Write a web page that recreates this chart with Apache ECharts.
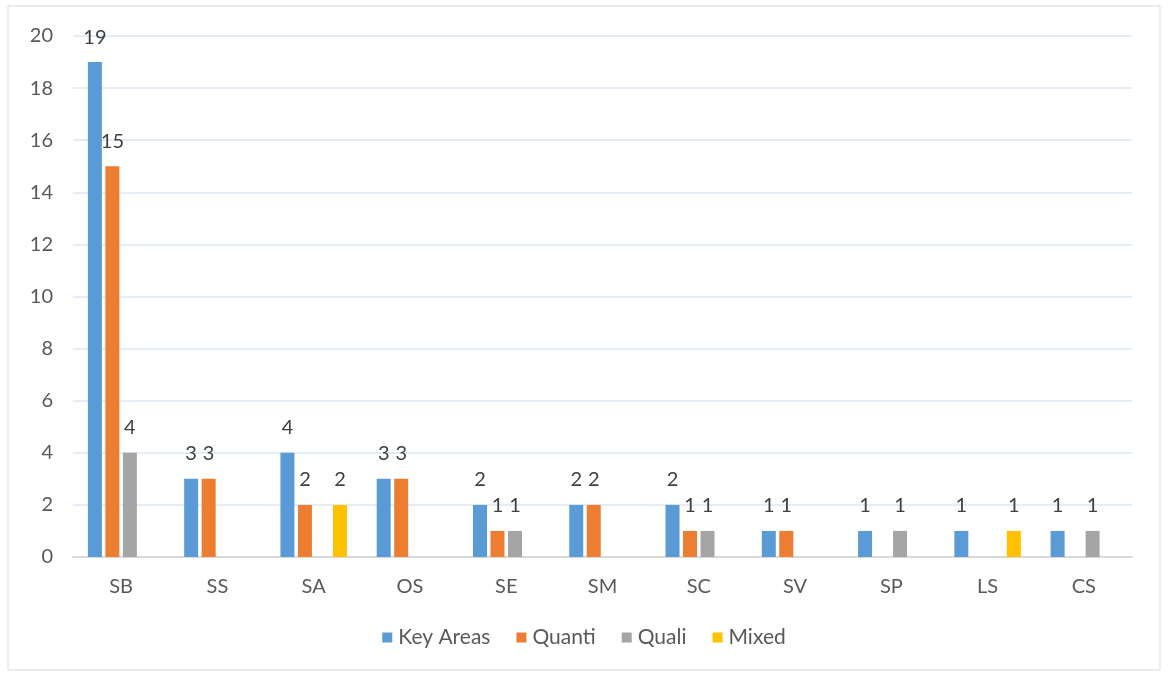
<!DOCTYPE html>
<html>
<head>
<meta charset="utf-8">
<script src="https://cdn.jsdelivr.net/npm/echarts@6/dist/echarts.min.js"></script>
<style>
  html, body { margin: 0; padding: 0; background: #fff; }
  #main { width: 1168px; height: 677px; }
</style>
</head>
<body>
<div id="main"></div>
<script>
var categories = ['SB', 'SS', 'SA', 'OS', 'SE', 'SM', 'SC', 'SV', 'SP', 'LS', 'CS'];
// null = no bar / no label
var keyAreas = [19, 3, 4, 3, 2, 2, 2, 1, 1, 1, 1];
var quanti   = [15, 3, 2, 3, 1, 2, 1, 1, null, null, null];
var quali    = [4, null, null, null, 1, null, 1, null, 1, null, 1];
var mixed    = [null, null, 2, null, null, null, null, null, null, 1, null];
var yTicks = { min: 0, max: 20, interval: 2 };

var chart = echarts.init(document.getElementById('main'));
var font = 'Lato, "Open Sans", sans-serif';

function mkSeries(name, data, color) {
    return {
        name: name,
        type: 'bar',
        data: data,
        barWidth: 14,
        barGap: '25%',
        itemStyle: { color: color },
        label: {
            show: true,
            position: 'top',
            distance: 15,
            color: '#404040',
            fontSize: 20,
            fontFamily: font
        }
    };
}

var option = {
    animation: false,
    textStyle: { fontFamily: font },
    graphic: [{
        type: 'rect',
        shape: { x: 8, y: 6, width: 1152, height: 664 },
        style: { fill: 'none', stroke: '#d9d9d9', lineWidth: 1 }
    }],
    grid: { left: 73, right: 36, top: 36, bottom: 120 },
    legend: {
        bottom: 24,
        left: 'center',
        itemWidth: 10,
        itemHeight: 10,
        itemGap: 26,
        icon: 'rect',
        textStyle: { color: '#595959', fontSize: 21, fontFamily: font, padding: [0, 0, 0, 1] },
        data: ['Key Areas', 'Quanti', 'Quali', 'Mixed']
    },
    xAxis: {
        type: 'category',
        data: categories,
        axisTick: { show: false },
        axisLine: { lineStyle: { color: '#d9d9d9', width: 2 } },
        axisLabel: { color: '#595959', fontSize: 20, margin: 20, fontFamily: font }
    },
    yAxis: {
        type: 'value',
        min: yTicks.min,
        max: yTicks.max,
        interval: yTicks.interval,
        axisLine: { show: false },
        axisTick: { show: false },
        axisLabel: { color: '#595959', fontSize: 20, margin: 20, fontFamily: font },
        splitLine: { lineStyle: { color: '#dbe7f5', width: 1.5 } }
    },
    series: [
        mkSeries('Key Areas', keyAreas, '#5b9bd5'),
        mkSeries('Quanti', quanti, '#ed7d31'),
        mkSeries('Quali', quali, '#a5a5a5'),
        mkSeries('Mixed', mixed, '#ffc000')
    ]
};
// set the category gap on the last bar series
option.series[3].barCategoryGap = '31%';

chart.setOption(option);
</script>
</body>
</html>
